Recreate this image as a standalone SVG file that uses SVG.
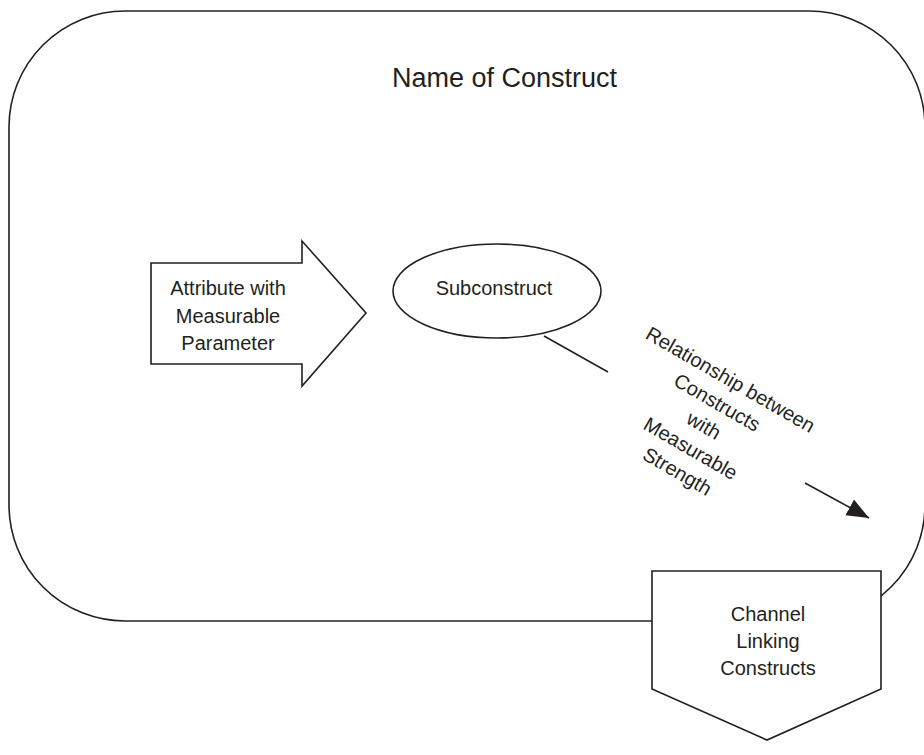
<svg xmlns="http://www.w3.org/2000/svg" width="924" height="755" viewBox="0 0 924 755">
  <style>
    .shape { fill: #fff; stroke: #231f20; stroke-width: 1.6; }
    .lbl { font-family: "Liberation Sans", Arial, sans-serif; font-size: 20px; fill: #231f20; text-anchor: middle; }
    .conn { stroke: #231f20; stroke-width: 1.6; fill: none; }
  </style>
  <defs>
    <marker id="arrowhead" markerUnits="userSpaceOnUse" markerWidth="24" markerHeight="20" refX="22" refY="9" orient="auto">
      <path d="M0,0 L22,9 L0,18 Z" fill="#231f20"/>
    </marker>
  </defs>

  <g id="construct">
    <rect class="shape" x="9" y="11" width="916" height="610" rx="116" ry="116"/>
    <text class="lbl" x="504.5" y="87" style="font-size:27px">Name of Construct</text>
  </g>

  <g id="attribute">
    <polygon class="shape" points="151,263 302,263 302,241 366,313 302,386 302,364 151,364"/>
    <text class="lbl" x="228" y="295">Attribute with</text>
    <text class="lbl" x="228" y="323">Measurable</text>
    <text class="lbl" x="228" y="350">Parameter</text>
  </g>

  <g id="subconstruct">
    <ellipse class="shape" cx="497" cy="291" rx="104" ry="47"/>
    <text class="lbl" x="494" y="295">Subconstruct</text>
  </g>

  <g id="connectors">
    <line class="conn" x1="544" y1="336" x2="608" y2="372"/>
    <line class="conn" x1="805" y1="483" x2="869" y2="518" marker-end="url(#arrowhead)"/>
  </g>

  <g id="relationship-label" transform="translate(727,385.5) rotate(30)">
    <text class="lbl" x="0" y="0">Relationship between</text>
    <text class="lbl" x="0" y="26.5">Constructs</text>
    <text class="lbl" x="0" y="53">with</text>
    <text class="lbl" x="0" y="79.5">Measurable</text>
    <text class="lbl" x="0" y="106">Strength</text>
  </g>

  <g id="channel">
    <polygon class="shape" points="652,571 881,571 881,689 767,740 652,689"/>
    <text class="lbl" x="768" y="621">Channel</text>
    <text class="lbl" x="768" y="648">Linking</text>
    <text class="lbl" x="768" y="675">Constructs</text>
  </g>
</svg>
